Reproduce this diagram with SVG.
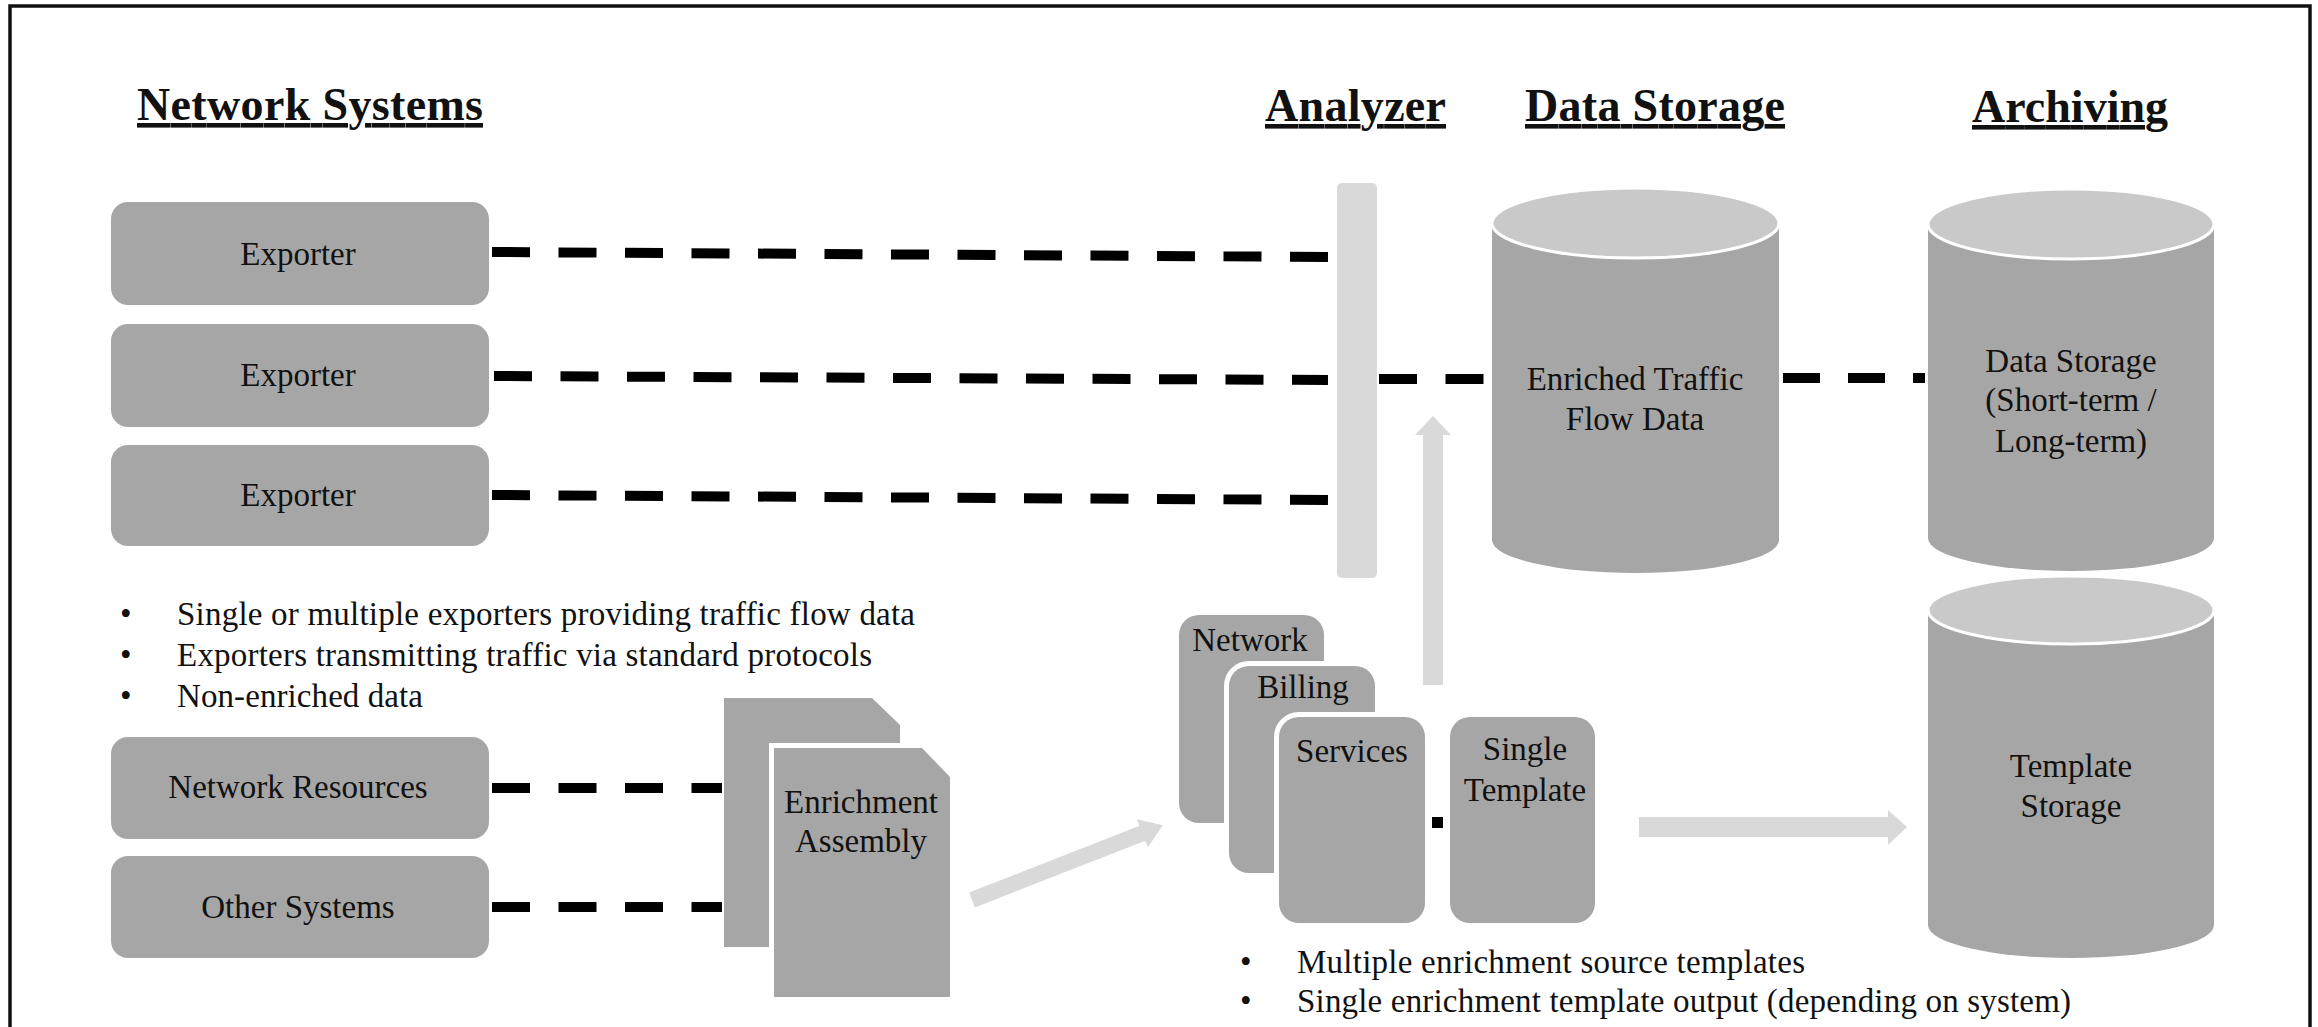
<svg xmlns="http://www.w3.org/2000/svg" width="2318" height="1027" viewBox="0 0 2318 1027">
<style>
.bg{fill:#ffffff}
.frame{fill:none;stroke:#111;stroke-width:3.5}
.box{fill:#a6a6a6}
.light{fill:#d9d9d9}
.cap{fill:#c9c9c9;stroke:#ffffff;stroke-width:3}
.wb{fill:#a6a6a6;stroke:#ffffff;stroke-width:10;paint-order:stroke}
.t{font-family:"Liberation Serif","Times New Roman",serif;font-size:33px;fill:#111}
.c{text-anchor:middle}
.h{font-weight:bold;font-size:46px;text-decoration:underline}
.dash{stroke:#000;stroke-width:10;stroke-dasharray:38 28.5;fill:none}
</style>
<rect class="bg" x="0" y="0" width="2318" height="1027"/>
<rect class="frame" x="10" y="6" width="2300" height="1040"/>

<g id="headers">
<text class="t h" x="137" y="120" textLength="346">Network Systems</text>
<text class="t h" x="1265" y="121" textLength="181">Analyzer</text>
<text class="t h" x="1525" y="121" textLength="260">Data Storage</text>
<text class="t h" x="1972" y="122" textLength="196">Archiving</text>
</g>

<g id="connectors">
<line class="dash" x1="492" y1="252" x2="1328" y2="257"/>
<line class="dash" x1="494" y1="376" x2="1328" y2="380"/>
<line class="dash" x1="492" y1="495" x2="1328" y2="500"/>
<line class="dash" x1="1379" y1="379" x2="1486" y2="379"/>
<line class="dash" x1="1783" y1="378" x2="1925" y2="378" style="stroke-dasharray:37 28"/>
<line class="dash" x1="492" y1="788" x2="722" y2="788"/>
<line class="dash" x1="492" y1="907" x2="722" y2="907"/>
<polygon class="light" points="1423,685 1423,435 1415,435 1433,416 1451,435 1443,435 1443,685"/>
<polygon class="light" points="1639,817 1888,817 1888,810 1907,827 1888,845 1888,837 1639,837"/>
<polygon class="light" transform="translate(972 900) rotate(-21.4)" points="0,-8 183,-8 183,-15 205,0 183,15 183,8 0,8"/>
<rect x="1432" y="817" width="11" height="11" fill="#000"/>
</g>

<g id="exporter1">
<rect class="box" x="111" y="202" width="378" height="103" rx="17"/>
<text class="t c" x="298" y="265">Exporter</text>
</g>
<g id="exporter2">
<rect class="box" x="111" y="324" width="378" height="103" rx="17"/>
<text class="t c" x="298" y="386">Exporter</text>
</g>
<g id="exporter3">
<rect class="box" x="111" y="445" width="378" height="101" rx="17"/>
<text class="t c" x="298" y="506">Exporter</text>
</g>

<g id="notes-left">
<text class="t" x="120" y="625">•</text>
<text class="t" x="177" y="625" textLength="738">Single or multiple exporters providing traffic flow data</text>
<text class="t" x="120" y="666">•</text>
<text class="t" x="177" y="666" textLength="695">Exporters transmitting traffic via standard protocols</text>
<text class="t" x="120" y="707">•</text>
<text class="t" x="177" y="707" textLength="246">Non-enriched data</text>
</g>

<g id="network-resources">
<rect class="box" x="111" y="737" width="378" height="102" rx="17"/>
<text class="t c" x="298" y="798">Network Resources</text>
</g>
<g id="other-systems">
<rect class="box" x="111" y="856" width="378" height="102" rx="17"/>
<text class="t c" x="298" y="918">Other Systems</text>
</g>

<g id="enrichment-assembly">
<polygon class="box" points="724,698 872,698 900,725 900,947 724,947"/>
<polygon class="wb" points="774,748 922,748 950,777 950,997 774,997"/>
<text class="t c" x="861" y="813">Enrichment</text>
<text class="t c" x="861" y="852">Assembly</text>
</g>

<g id="analyzer">
<rect class="light" x="1337" y="183" width="40" height="395" rx="5"/>
</g>

<g id="template-network">
<rect class="box" x="1179" y="615" width="145" height="208" rx="20"/>
<text class="t c" x="1250" y="651">Network</text>
</g>
<g id="template-billing">
<rect class="wb" x="1229" y="666" width="146" height="207" rx="20"/>
<text class="t c" x="1303" y="698">Billing</text>
</g>
<g id="template-services">
<rect class="wb" x="1279" y="717" width="146" height="206" rx="20"/>
<text class="t c" x="1352" y="762">Services</text>
</g>
<g id="single-template">
<rect class="box" x="1450" y="717" width="145" height="206" rx="20"/>
<text class="t c" x="1525" y="760">Single</text>
<text class="t c" x="1525" y="801">Template</text>
</g>

<g id="notes-bottom">
<text class="t" x="1240" y="973">•</text>
<text class="t" x="1297" y="973" textLength="508">Multiple enrichment source templates</text>
<text class="t" x="1240" y="1012">•</text>
<text class="t" x="1297" y="1012" textLength="774">Single enrichment template output (depending on system)</text>
</g>

<g id="enriched-traffic-flow-data">
<path class="box" d="M1492,223 L1492,540 A143.5,33 0 0 0 1779,540 L1779,223 Z"/>
<ellipse class="cap" cx="1635.5" cy="223" rx="143.5" ry="35"/>
<text class="t c" x="1635" y="390">Enriched Traffic</text>
<text class="t c" x="1635" y="430">Flow Data</text>
</g>

<g id="archive-data-storage">
<path class="box" d="M1928,224 L1928,538 A143,33 0 0 0 2214,538 L2214,224 Z"/>
<ellipse class="cap" cx="2071" cy="224" rx="143" ry="35"/>
<text class="t c" x="2071" y="372">Data Storage</text>
<text class="t c" x="2071" y="411">(Short-term /</text>
<text class="t c" x="2071" y="452">Long-term)</text>
</g>

<g id="template-storage">
<path class="box" d="M1928,610 L1928,925 A143,33 0 0 0 2214,925 L2214,610 Z"/>
<ellipse class="cap" cx="2071" cy="610" rx="143" ry="34"/>
<text class="t c" x="2071" y="777">Template</text>
<text class="t c" x="2071" y="817">Storage</text>
</g>
</svg>
